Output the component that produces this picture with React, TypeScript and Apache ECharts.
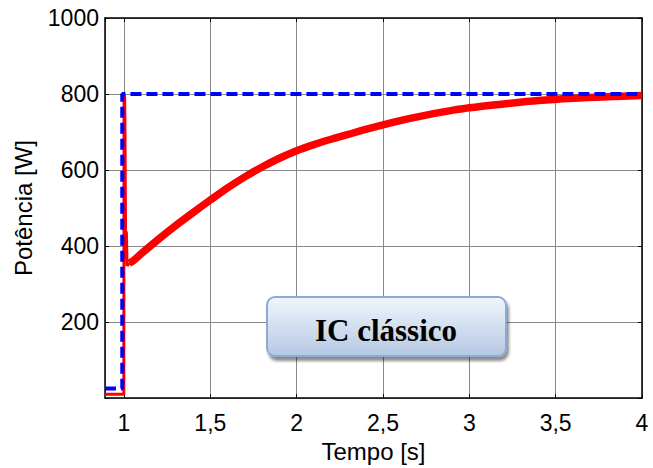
import React, { useEffect, useRef } from "react";
import * as echarts from "echarts";

// Reference (blue dashed) power [W]
const refX = [0.89, 0.99, 0.99, 4.0];
const refY = [25, 25, 800, 800];

// Measured power, start-up transient (thin red)
const pStartX = [0.89, 0.999, 1.0, 1.004, 1.006, 1.009, 1.014, 1.018, 1.03];
const pStartY = [10, 10, 800, 790, 690, 440, 435, 348, 355];

// Measured power, noisy rise (thick red)
const pRiseX = [1.03, 1.05, 1.1, 1.2, 1.3, 1.4, 1.5, 1.6, 1.7, 1.8, 1.9, 2.0, 2.1, 2.2, 2.3, 2.4, 2.5, 2.6, 2.7, 2.8, 2.9, 3.0, 3.2, 3.4, 3.6, 3.8, 4.0];
const pRiseY = [355, 360, 380, 418, 454, 488, 521, 553, 582, 608, 631, 651, 667, 681, 694, 707, 719, 730, 740, 749, 757, 764, 774, 783, 789, 793, 796];

const xMin = 0.89;
const xMax = 4;
const yMin = 0;
const yMax = 1000;
const yStep = 200;

const xTitle = "Tempo [s]";
const yTitle = "Potência [W]";
const boxLabel = "IC clássico";

const pairs = (xs: number[], ys: number[]) => xs.map((x, i) => [x, ys[i]]);

export default function App() {
  const ref = useRef<HTMLDivElement>(null);
  useEffect(() => {
    if (!ref.current) return;
    const chart = echarts.init(ref.current, null, { renderer: "svg" });
    const font = "'Liberation Sans', Arial, sans-serif";
    const xFmt = (v: number) => {
      if (Math.abs(v * 2 - Math.round(v * 2)) > 1e-6) return "";
      return String(Math.round(v * 10) / 10).replace(".", ",");
    };
    const yFmt = (v: number) => (v === 0 ? "" : String(v));
    chart.setOption({
      animation: false,
      backgroundColor: "#ffffff",
      grid: { left: 105, right: 11, top: 18, bottom: 68, containLabel: false },
      xAxis: [
        {
          type: "value",
          min: xMin,
          max: xMax,
          splitNumber: 6,
          name: xTitle,
          nameLocation: "middle",
          nameGap: 38,
          nameTextStyle: { fontFamily: font, fontSize: 24, color: "#000" },
          axisLine: { show: true, onZero: false, lineStyle: { color: "#000", width: 1.5 } },
          axisTick: { show: true, inside: true, length: 4, lineStyle: { color: "#000" } },
          axisLabel: { formatter: xFmt, fontFamily: font, fontSize: 23, color: "#000", margin: 13, showMinLabel: false },
          splitLine: { show: true, lineStyle: { color: "#8a8a8a", width: 1 } },
        },
        {
          type: "value",
          position: "top",
          min: xMin,
          max: xMax,
          splitNumber: 6,
          axisLine: { show: true, onZero: false, lineStyle: { color: "#000", width: 1.5 } },
          axisTick: { show: true, inside: true, length: 4, lineStyle: { color: "#000" } },
          axisLabel: { show: false },
          splitLine: { show: false },
        },
      ],
      yAxis: [
        {
          type: "value",
          min: yMin,
          max: yMax,
          interval: yStep,
          name: yTitle,
          nameLocation: "middle",
          nameGap: 70,
          nameTextStyle: { fontFamily: font, fontSize: 24, color: "#000" },
          axisLine: { show: true, onZero: false, lineStyle: { color: "#000", width: 1.5 } },
          axisTick: { show: true, inside: true, length: 4, lineStyle: { color: "#000" } },
          axisLabel: { formatter: yFmt, fontFamily: font, fontSize: 23, color: "#000", margin: 6 },
          splitLine: { show: true, lineStyle: { color: "#8a8a8a", width: 1 } },
        },
        {
          type: "value",
          position: "right",
          min: yMin,
          max: yMax,
          interval: yStep,
          axisLine: { show: true, onZero: false, lineStyle: { color: "#000", width: 1.5 } },
          axisTick: { show: true, inside: true, length: 4, lineStyle: { color: "#000" } },
          axisLabel: { show: false },
          splitLine: { show: false },
        },
      ],
      series: [
        {
          type: "line",
          xAxisIndex: 0,
          yAxisIndex: 0,
          data: pairs(pStartX, pStartY),
          showSymbol: false,
          symbol: "none",
          lineStyle: { color: "#ff0000", width: 3 },
          z: 2,
        },
        {
          type: "line",
          xAxisIndex: 0,
          yAxisIndex: 0,
          data: pairs(pRiseX, pRiseY),
          showSymbol: false,
          symbol: "none",
          smooth: 0.3,
          lineStyle: { color: "#ff0000", width: 7.5, cap: "butt" },
          z: 2,
        },
        {
          type: "line",
          xAxisIndex: 0,
          yAxisIndex: 0,
          data: pairs(refX, refY),
          showSymbol: false,
          symbol: "none",
          lineStyle: { color: "#0000ff", width: 4, type: [11, 5] },
          z: 3,
        },
      ],
      graphic: [
        {
          type: "rect",
          shape: { x: 267, y: 297, width: 239, height: 59, r: 8 },
          style: {
            fill: new echarts.graphic.LinearGradient(0, 0, 0, 1, [
              { offset: 0, color: "#f2f6fc" },
              { offset: 1, color: "#b4c8e3" },
            ]),
            stroke: "#8eaad3",
            lineWidth: 2,
            shadowBlur: 3,
            shadowOffsetX: 2,
            shadowOffsetY: 4,
            shadowColor: "rgba(0,0,0,0.45)",
          },
          z: 10,
        },
        {
          type: "text",
          x: 386,
          y: 330,
          style: {
            text: boxLabel,
            fontFamily: "'Liberation Serif', 'Times New Roman', serif",
            fontWeight: "bold",
            fontSize: 31,
            fill: "#000",
            align: "center",
            verticalAlign: "middle",
          },
          z: 11,
        },
      ],
    });
    return () => chart.dispose();
  }, []);
  return <div ref={ref} style={{ position: "fixed", left: 0, top: 0, width: 653, height: 468 }} />;
}
